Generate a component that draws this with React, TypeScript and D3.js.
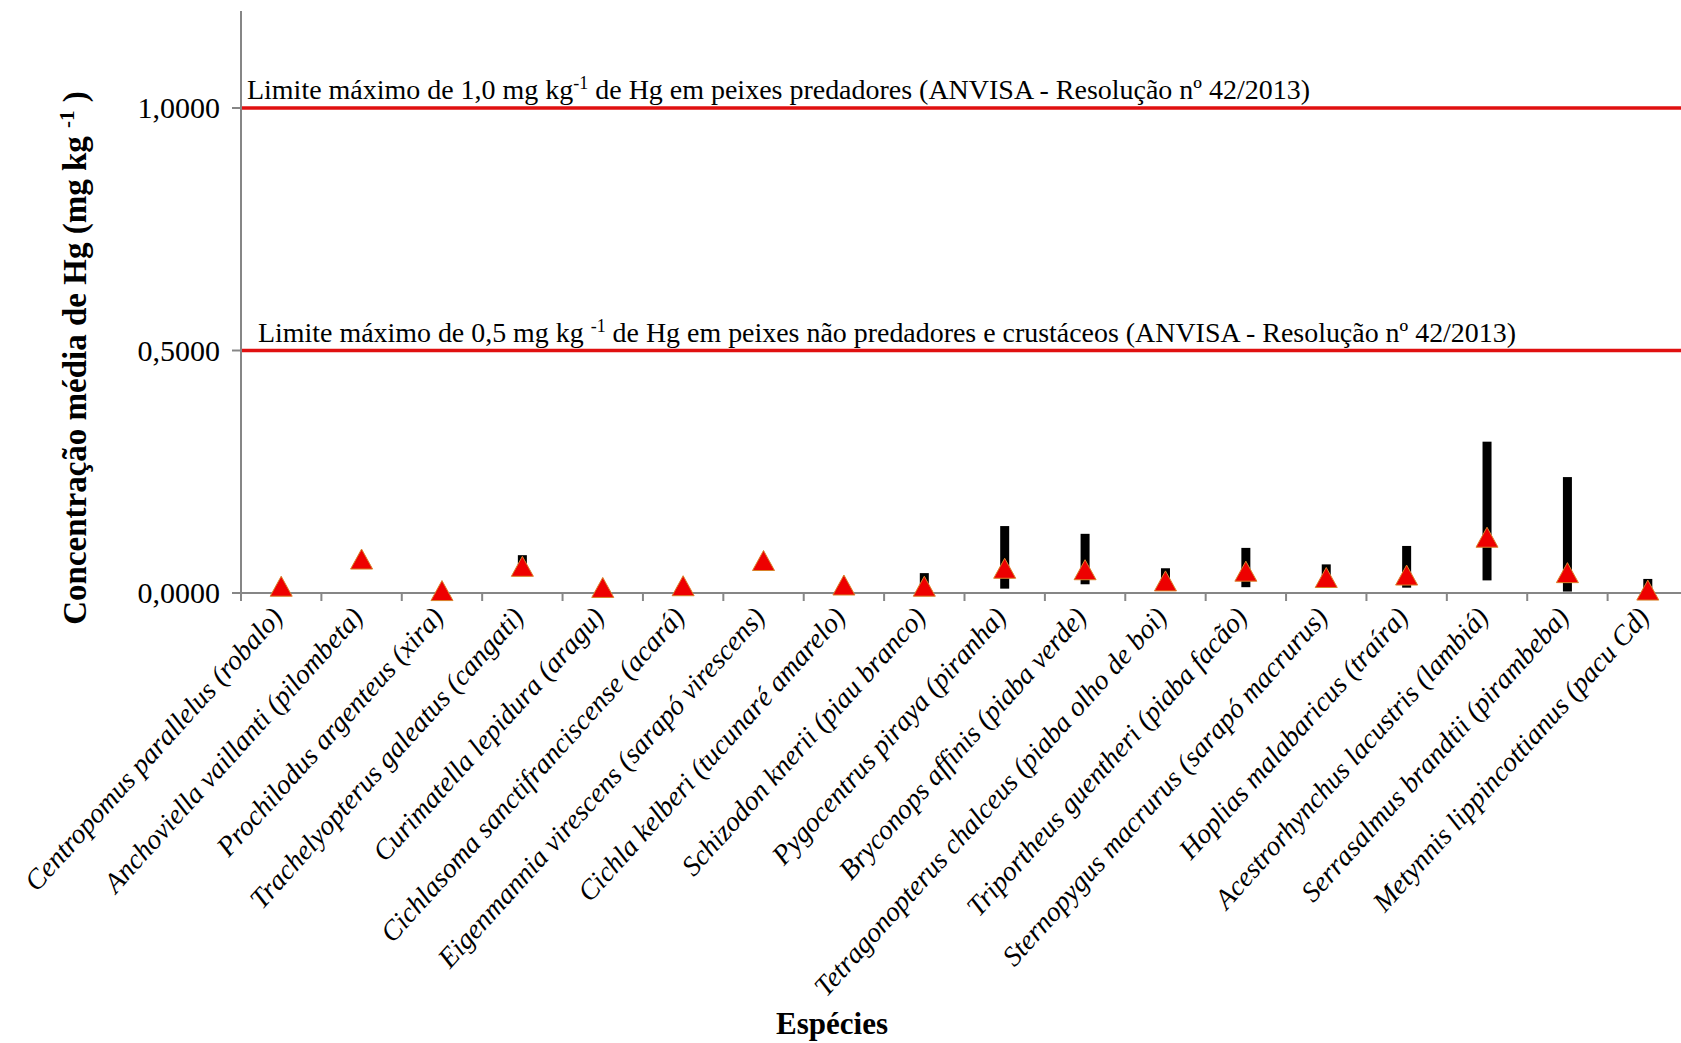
import React from "react";
import * as d3 from "d3";

const categories = [
  "Centropomus parallelus (robalo)",
  "Anchoviella vaillanti (pilombeta)",
  "Prochilodus argenteus (xira)",
  "Trachelyopterus galeatus (cangati)",
  "Curimatella lepidura (aragu)",
  "Cichlasoma sanctifranciscense (acará)",
  "Eigenmannia virescens (sarapó virescens)",
  "Cichla kelberi (tucunaré amarelo)",
  "Schizodon knerii (piau branco)",
  "Pygocentrus piraya (piranha)",
  "Bryconops affinis (piaba verde)",
  "Tetragonopterus chalceus (piaba olho de boi)",
  "Triportheus guentheri (piaba facão)",
  "Sternopygus macrurus (sarapó macrurus)",
  "Hoplias malabaricus (traíra)",
  "Acestrorhynchus lacustris (lambiá)",
  "Serrasalmus brandtii (pirambeba)",
  "Metynnis lippincottianus (pacu Cd)",
];

const meanValues = [0.014, 0.07, 0.005, 0.055, 0.0115, 0.015, 0.067, 0.0165, 0.014, 0.051, 0.048, 0.025, 0.045, 0.032, 0.037, 0.115, 0.042, 0.006];
const minValues: (number | null)[] = [null, null, null, 0.058, null, null, null, null, 0.005, 0.009, 0.018, 0.008, 0.012, 0.012, 0.011, 0.026, 0.003, 0.002];
const maxValues: (number | null)[] = [null, null, null, 0.078, null, null, null, null, 0.041, 0.138, 0.122, 0.051, 0.093, 0.059, 0.097, 0.312, 0.239, 0.029];

const yTicks = [0, 0.5, 1.0];
const limitValues = [1.0, 0.5];

const W = 1681;
const H = 1043;
const FONT = "'Liberation Serif', 'Times New Roman', serif";

export default function App() {
  const x = d3.scaleBand<string>().domain(categories).range([241, 1688]).padding(0);
  const y = d3.scaleLinear().domain([0, 1.2]).range([593, 11]);
  const fmt = (v: number) => v.toFixed(4).replace(".", ",");
  const x0 = x.range()[0];
  const y0 = y(0);

  const tri = (cx: number, cy: number) => {
    const p = d3.path();
    const w = 22, h = 20;
    p.moveTo(cx, cy - h / 2);
    p.lineTo(cx + w / 2, cy + h / 2);
    p.lineTo(cx - w / 2, cy + h / 2);
    p.closePath();
    return p.toString();
  };

  return (
    <svg width={W} height={H} style={{ position: "absolute", left: 0, top: 0, background: "#fff" }} fontFamily={FONT}>
      <rect x={0} y={0} width={W} height={H} fill="#fff" />
      {/* limit lines */}
      {limitValues.map((v) => (
        <line key={v} x1={x0} x2={W} y1={y(v)} y2={y(v)} stroke="#e01010" strokeWidth={3.5} />
      ))}
      <text x={247} y={y(1.0) - 9} fontSize={28} textLength={1063} lengthAdjust="spacingAndGlyphs" fill="#000">
        Limite máximo de 1,0 mg kg<tspan dy={-10} fontSize={18}>-1</tspan>
        <tspan dy={10}> de Hg em peixes  predadores (ANVISA - Resolução nº 42/2013)</tspan>
      </text>
      <text x={258} y={y(0.5) - 9} fontSize={28} textLength={1258} lengthAdjust="spacingAndGlyphs" fill="#000">
        Limite máximo de 0,5 mg kg <tspan dy={-10} fontSize={18}>-1</tspan>
        <tspan dy={10}> de Hg em peixes não predadores  e crustáceos (ANVISA - Resolução nº 42/2013)</tspan>
      </text>

      {/* y axis */}
      <line x1={x0} x2={x0} y1={y(1.2)} y2={y0} stroke="#868686" strokeWidth={2} />
      {yTicks.map((t) => (
        <g key={t}>
          <line x1={x0 - 9} x2={x0} y1={y(t)} y2={y(t)} stroke="#868686" strokeWidth={2} />
          <text x={220} y={y(t)} dy="0.34em" textAnchor="end" fontSize={30} fill="#000">
            {fmt(t)}
          </text>
        </g>
      ))}

      {/* x axis */}
      <line x1={x0} x2={W} y1={y0} y2={y0} stroke="#868686" strokeWidth={2} />
      {categories.map((c, i) => (
        <line key={"t" + i} x1={x(c)!} x2={x(c)!} y1={y0} y2={y0 + 8} stroke="#868686" strokeWidth={2} />
      ))}

      {/* range bars */}
      {categories.map((c, i) => {
        const mn = minValues[i];
        const mx = maxValues[i];
        if (mn == null || mx == null) return null;
        const cx = x(c)! + x.bandwidth() / 2;
        return <rect key={"b" + i} x={cx - 4.5} width={9} y={y(mx)} height={y(mn) - y(mx)} fill="#000" />;
      })}

      {/* mean markers */}
      {categories.map((c, i) => {
        const cx = x(c)! + x.bandwidth() / 2;
        return <path key={"m" + i} d={tri(cx, y(meanValues[i]))} fill="#ee0000" stroke="#d9822b" strokeWidth={1} />;
      })}

      {/* category labels */}
      {categories.map((c, i) => {
        const cx = x(c)! + x.bandwidth() / 2 + 3;
        const ly = y0 + 25;
        return (
          <text key={"l" + i} x={cx} y={ly} transform={`rotate(-48 ${cx} ${ly})`} textAnchor="end" fontSize={28} fontStyle="italic" fill="#000">
            {c}
          </text>
        );
      })}

      {/* axis titles */}
      <text transform="translate(86 358) rotate(-90)" textAnchor="middle" fontSize={33} fontWeight="bold" fill="#000">
        Concentração média de Hg (mg kg <tspan dy={-12} fontSize={21}>-1</tspan>
        <tspan dy={12}> )</tspan>
      </text>
      <text x={832} y={1034} textAnchor="middle" fontSize={31} fontWeight="bold" fill="#000">
        Espécies
      </text>
    </svg>
  );
}
